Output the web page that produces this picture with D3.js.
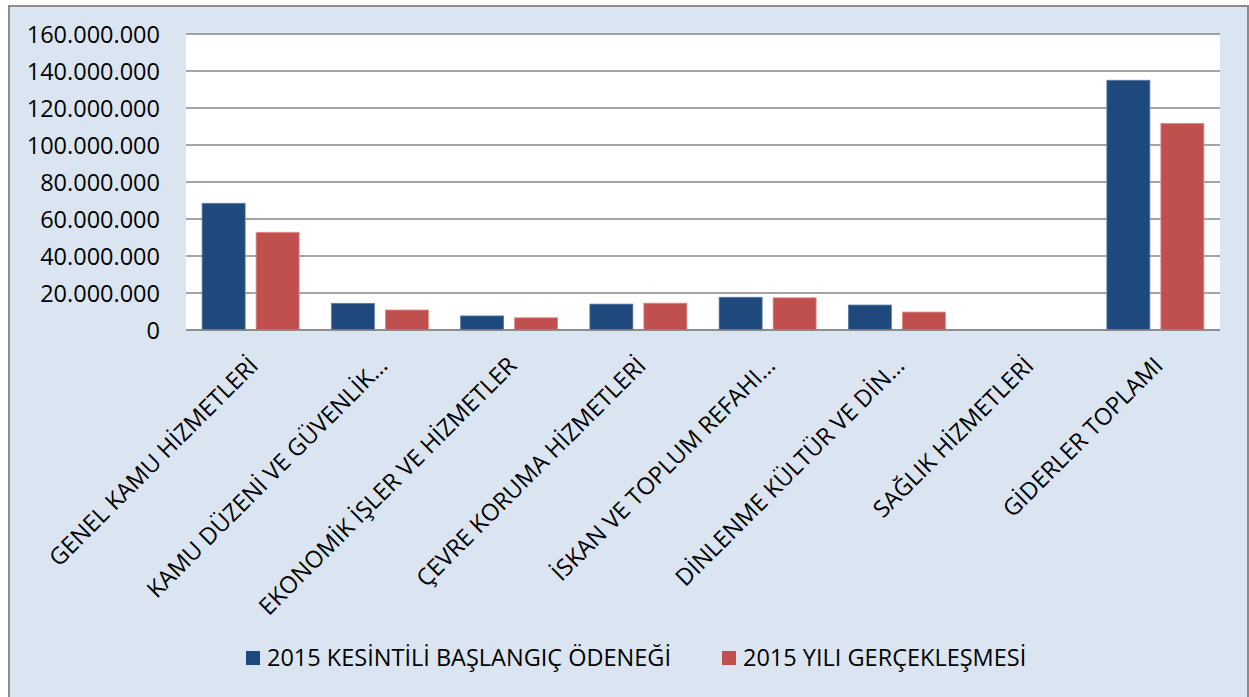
<!DOCTYPE html>
<html>
<head>
<meta charset="utf-8">
<script src="https://cdn.jsdelivr.net/npm/d3@7"></script>
<style>
  html, body { margin: 0; padding: 0; background: #ffffff; }
  svg { display: block; }
  text { font-family: "Open Sans", "DejaVu Sans", sans-serif; fill: #000; }
</style>
</head>
<body>
<svg id="chart" width="1249" height="697"></svg>
<script>
const categories = [
  "GENEL KAMU HİZMETLERİ",
  "KAMU DÜZENİ VE GÜVENLİK…",
  "EKONOMİK İŞLER VE HİZMETLER",
  "ÇEVRE KORUMA HİZMETLERİ",
  "İSKAN VE TOPLUM REFAHI…",
  "DİNLENME KÜLTÜR VE DİN…",
  "SAĞLIK HİZMETLERİ",
  "GİDERLER TOPLAMI"
];
const seriesNames = ["2015 KESİNTİLİ BAŞLANGIÇ ÖDENEĞİ", "2015 YILI GERÇEKLEŞMESİ"];
const baslangicOdenegi = [68500000, 14400000, 7600000, 14000000, 17700000, 13500000, 0, 135000000];
const yiliGerceklesmesi = [52800000, 10800000, 6600000, 14500000, 17400000, 9700000, 0, 111700000];
const yTicks = [0, 20000000, 40000000, 60000000, 80000000, 100000000, 120000000, 140000000, 160000000];
const colors = ["#1F497D", "#C0504D"];

const svg = d3.select("#chart");
const W = 1249, H = 697;
const plot = { left: 186, right: 1220, top: 34, bottom: 330 };
const FS = "23.5px";

// chart area background and border
svg.append("rect").attr("x", 8).attr("y", 5).attr("width", W - 8).attr("height", H)
  .attr("fill", "#DBE5F1");
svg.append("rect").attr("x", 9).attr("y", 6).attr("width", W - 10).attr("height", H + 10)
  .attr("fill", "none").attr("stroke", "#8C8C8C").attr("stroke-width", 2);

// plot area
svg.append("rect").attr("x", plot.left).attr("y", plot.top)
  .attr("width", plot.right - plot.left).attr("height", plot.bottom - plot.top)
  .attr("fill", "#ffffff");

const locale = d3.formatLocale({ decimal: ",", thousands: ".", grouping: [3], currency: ["", "₺"] });
const fmt = locale.format(",d");

const x = d3.scaleBand().domain(categories).range([plot.left, plot.right]).padding(0);
const y = d3.scaleLinear().domain([0, 160000000]).range([plot.bottom, plot.top]);

// gridlines
svg.append("g").selectAll("line").data(yTicks).join("line")
  .attr("x1", plot.left).attr("x2", plot.right)
  .attr("y1", d => y(d)).attr("y2", d => y(d))
  .attr("stroke", "#878787").attr("stroke-width", 1.6);

// y axis labels
const yAxis = d3.axisLeft(y).tickValues(yTicks).tickFormat(fmt).tickSize(0).tickPadding(0);
const gy = svg.append("g").attr("transform", `translate(160,0)`).call(yAxis);
gy.select(".domain").remove();
gy.selectAll("text").style("font-size", FS).attr("dy", "0.36em")
  .style("font-family", '"Open Sans", sans-serif').attr("fill", "#000");

// bars
const data = categories.map((c, i) => ({ cat: c, vals: [baslangicOdenegi[i], yiliGerceklesmesi[i]] }));
const barW = 43, gap = 11;
const x1 = d3.scaleOrdinal().domain([0, 1]).range([-gap / 2 - barW, gap / 2]);
const groups = svg.append("g").selectAll("g").data(data).join("g")
  .attr("transform", d => `translate(${x(d.cat) + x.bandwidth() / 2},0)`);
groups.selectAll("rect").data(d => d.vals.map((v, k) => ({ v, k }))).join("rect")
  .attr("x", d => x1(d.k)).attr("width", barW)
  .attr("y", d => y(d.v)).attr("height", d => y(0) - y(d.v))
  .attr("fill", d => colors[d.k])
  .attr("stroke", d => d.k === 0 ? "#5A7CA8" : "#E08A88").attr("stroke-width", d => d.v > 0 ? 0.8 : 0);

// baseline axis
svg.append("line").attr("x1", plot.left).attr("x2", plot.right)
  .attr("y1", y(0)).attr("y2", y(0)).attr("stroke", "#878787").attr("stroke-width", 1.6);

// x axis labels
const xAxis = d3.axisBottom(x).tickSize(0).tickPadding(0);
const gx = svg.append("g").attr("transform", `translate(0,${plot.bottom})`).call(xAxis);
gx.select(".domain").remove();
gx.selectAll("text")
  .style("font-size", FS).style("font-family", '"Open Sans", sans-serif')
  .attr("fill", "#000")
  .attr("text-anchor", "end")
  .attr("y", 0).attr("dy", 0)
  .attr("transform", "translate(9,37) rotate(-45)");

// legend
const legend = svg.append("g");
const legX = [246, 722];
seriesNames.forEach((name, i) => {
  legend.append("rect").attr("x", legX[i]).attr("y", 651).attr("width", 14).attr("height", 14)
    .attr("fill", colors[i]);
  legend.append("text").attr("x", legX[i] + 21).attr("y", 666)
    .style("font-size", FS).text(name);
});
</script>
</body>
</html>
